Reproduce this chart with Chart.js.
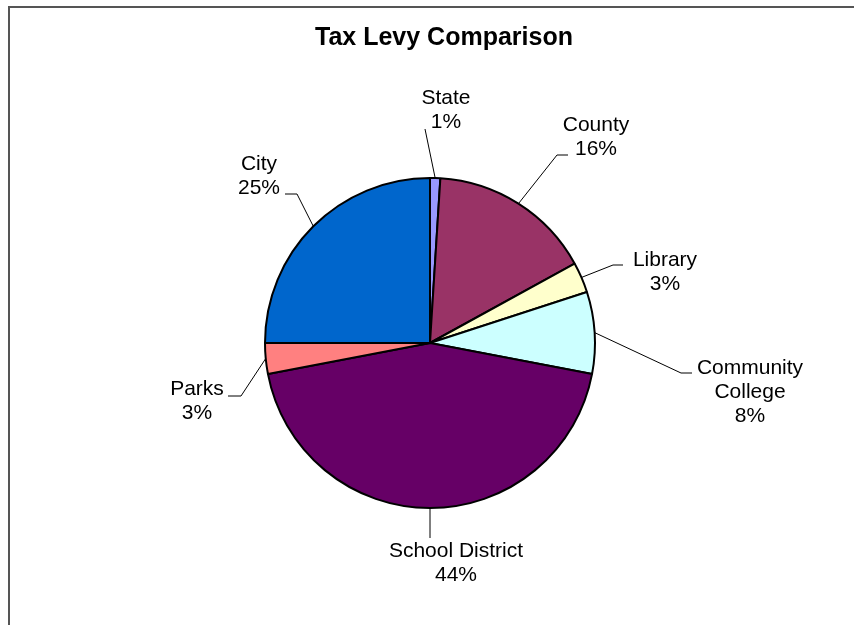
<!DOCTYPE html>
<html>
<head>
<meta charset="utf-8">
<script src="https://cdn.jsdelivr.net/npm/chart.js@4/dist/chart.umd.min.js"></script>
<style>
  html, body { margin: 0; padding: 0; background: #ffffff; }
  #wrap { width: 854px; height: 625px; position: relative; }
</style>
</head>
<body>
<div id="wrap"><canvas id="levy" width="854" height="625"></canvas></div>
<script>
// Share of the total tax levy by taxing body (percent)
const categories = ['State', 'County', 'Library', 'Community College', 'School District', 'Parks', 'City'];
const levyShare = [1, 16, 3, 8, 44, 3, 25];
const sliceColors = ['#9999FF', '#993366', '#FFFFCC', '#CCFFFF', '#660066', '#FF8080', '#0066CC'];
// Label text, split into lines as printed beside each slice
const labelLines = [
  ['State'], ['County'], ['Library'], ['Community', 'College'], ['School District'], ['Parks'], ['City']
];

// Placement of each callout: text centre x, first line centre y, leader bend and end
const calloutLayout = [
  { x: 446, y: 97,  bend: null,       end: [425, 129] },
  { x: 596, y: 124, bend: [557, 155], end: [568, 155] },
  { x: 665, y: 259, bend: [613, 265], end: [623, 265] },
  { x: 750, y: 367, bend: [681, 373], end: [692, 373] },
  { x: 456, y: 550, bend: null,       end: [430, 538] },
  { x: 197, y: 388, bend: [241, 396], end: [228, 396] },
  { x: 259, y: 163, bend: [297, 194], end: [285, 194] }
];

const LABEL_FONT = '21px "Liberation Sans", Arial, sans-serif';
const LINE_H = 24;

const framePlugin = {
  id: 'frame',
  beforeDraw(chart) {
    const ctx = chart.ctx;
    ctx.save();
    ctx.fillStyle = '#ffffff';
    ctx.fillRect(0, 0, chart.width, chart.height);
    ctx.strokeStyle = '#555555';
    ctx.lineWidth = 2;
    ctx.beginPath();
    ctx.moveTo(9, chart.height + 5);
    ctx.lineTo(9, 7);
    ctx.lineTo(chart.width + 5, 7);
    ctx.stroke();
    // title
    ctx.fillStyle = '#000000';
    ctx.font = 'bold 25px "Liberation Sans", Arial, sans-serif';
    ctx.textAlign = 'center';
    ctx.textBaseline = 'middle';
    ctx.fillText('Tax Levy Comparison', 444, 38);
    ctx.restore();
  }
};

const calloutPlugin = {
  id: 'callouts',
  afterDatasetsDraw(chart) {
    const ctx = chart.ctx;
    const meta = chart.getDatasetMeta(0);
    const data = chart.data.datasets[0].data;
    const total = data.reduce((a, b) => a + b, 0);
    ctx.save();
    meta.data.forEach((arc, i) => {
      const p = arc.getProps(['x', 'y', 'startAngle', 'endAngle', 'outerRadius'], true);
      const mid = (p.startAngle + p.endAngle) / 2;
      const sx = p.x + Math.cos(mid) * p.outerRadius;
      const sy = p.y + Math.sin(mid) * p.outerRadius;
      const lay = calloutLayout[i];
      ctx.strokeStyle = '#000000';
      ctx.lineWidth = 1;
      ctx.beginPath();
      ctx.moveTo(sx, sy);
      if (lay.bend) ctx.lineTo(lay.bend[0], lay.bend[1]);
      ctx.lineTo(lay.end[0], lay.end[1]);
      ctx.stroke();

      const pct = Math.round(data[i] / total * 100) + '%';
      const lines = labelLines[i].concat([pct]);
      ctx.fillStyle = '#000000';
      ctx.font = LABEL_FONT;
      ctx.textAlign = 'center';
      ctx.textBaseline = 'middle';
      lines.forEach((t, k) => ctx.fillText(t, lay.x, lay.y + k * LINE_H + 1));
    });
    ctx.restore();
  }
};

new Chart(document.getElementById('levy'), {
  type: 'pie',
  data: {
    labels: categories,
    datasets: [{
      data: levyShare,
      backgroundColor: sliceColors,
      borderColor: '#000000',
      borderWidth: 2,
      borderAlign: 'center'
    }]
  },
  options: {
    responsive: false,
    animation: false,
    radius: 165,
    layout: { padding: { left: 100, right: 94, top: 100, bottom: 39 } },
    plugins: {
      legend: { display: false },
      title: { display: false },
      tooltip: { enabled: false }
    }
  },
  plugins: [framePlugin, calloutPlugin]
});
</script>
</body>
</html>
